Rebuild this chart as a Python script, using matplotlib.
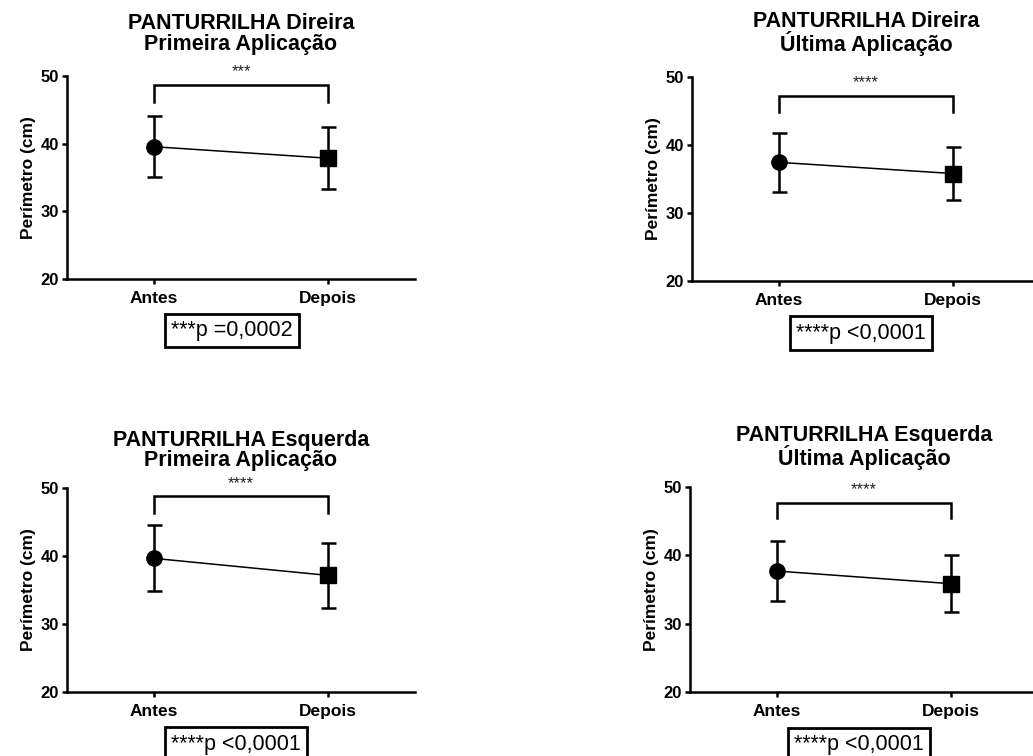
import matplotlib
matplotlib.use("Agg")
import matplotlib.pyplot as plt

plt.rcParams['font.family'] = ['Liberation Sans', 'DejaVu Sans']

groups = ['Antes', 'Depois']

titles = [
    'PANTURRILHA Direira\nPrimeira Aplicação',
    'PANTURRILHA Direira\nÚltima Aplicação',
    'PANTURRILHA Esquerda\nPrimeira Aplicação',
    'PANTURRILHA Esquerda\nÚltima Aplicação',
]

# mean and SD for each panel (Antes, Depois)
means = [
    [39.55, 37.85],
    [37.45, 35.8],
    [39.65, 37.15],
    [37.7, 35.85],
]
sds = [
    [4.55, 4.55],
    [4.35, 3.9],
    [4.85, 4.75],
    [4.4, 4.15],
]

stars = ['***', '****', '****', '****']
pvals = ['***p =0,0002', '****p <0,0001', '****p <0,0001', '****p <0,0001']

# significance bracket: top, foot of the legs, star height
brackets = [
    [48.7, 46.2, 50.6],
    [47.2, 44.9, 49.1],
    [48.8, 46.3, 50.6],
    [47.7, 45.5, 49.6],
]

W, H = 1033, 756
fig = plt.figure(figsize=(W / 100, H / 100), dpi=100)

# axes boxes in pixels: left, top, bottom
boxes = [
    (67, 76, 279),
    (692, 77, 281),
    (67, 488, 692),
    (690, 487, 692),
]
title_pads = [19, 19, 16, 16]
markers = ['o', 's']

for i, (l, t, b) in enumerate(boxes):
    ax = fig.add_axes([l / W, 1 - b / H, 348 / W, (b - t) / H])
    x = list(range(len(groups)))
    ax.plot(x, means[i], color='black', lw=1.1, zorder=2)
    for j in x:
        ax.errorbar(j, means[i][j], yerr=sds[i][j], fmt=markers[j],
                    color='black', ms=11, elinewidth=1.8, capsize=5.4,
                    capthick=1.8, zorder=3)

    top, foot, sy = brackets[i]
    ax.plot([0, 0, 1, 1], [foot, top, top, foot], color='black', lw=1.8,
            clip_on=False, solid_joinstyle='miter')
    ax.text(0.5, sy, stars[i], ha='center', va='center', fontsize=12,
            color='#222222', clip_on=False)

    ax.set_xlim(-0.5, 1.5)
    ax.set_ylim(20, 50)
    ax.set_xticks(x)
    ax.set_xticklabels(groups, fontsize=12.5, fontweight='bold')
    ax.set_yticks([20, 30, 40, 50])
    ax.set_yticklabels(['20', '30', '40', '50'], fontsize=12, fontweight='bold')
    ax.tick_params(direction='out', length=3.5, width=1.8, pad=2.5)
    ax.tick_params(axis='x', pad=5)
    for s in ['top', 'right']:
        ax.spines[s].set_visible(False)
    for s in ['left', 'bottom']:
        ax.spines[s].set_linewidth(1.8)

    ax.set_ylabel('Perímetro (cm)', fontsize=12.5, fontweight='bold', labelpad=3)
    ax.set_title(titles[i], fontsize=15.5, fontweight='bold', linespacing=0.95,
                 pad=title_pads[i])

    ax.text(0.299, -0.255, pvals[i], transform=ax.transAxes, ha='left',
            va='center', fontsize=15.5,
            bbox=dict(boxstyle='square,pad=0.28', fc='white', ec='black', lw=2))

fig.savefig('out.png', dpi=100)
